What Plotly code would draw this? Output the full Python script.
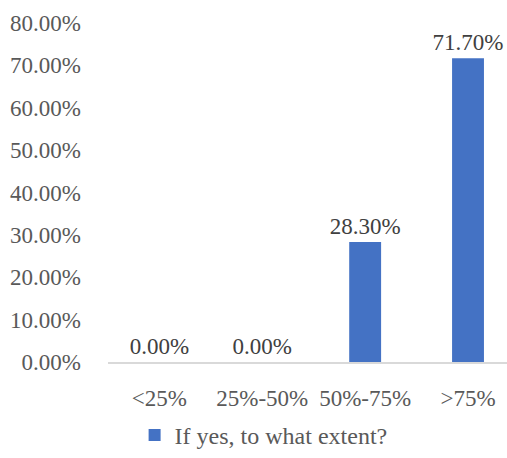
import plotly.graph_objects as go

categories = ["<25%", "25%-50%", "50%-75%", ">75%"]
values = [0.0, 0.0, 28.3, 71.7]
series_name = "If yes, to what extent?"
y_ticks = [0, 10, 20, 30, 40, 50, 60, 70, 80]
y_tick_labels = [f"{v:.2f}%" for v in y_ticks]

font_family = "Liberation Serif, Times New Roman, serif"
fs = 23

fig = go.Figure(
    go.Bar(
        x=categories,
        y=values,
        name=series_name,
        marker=dict(color="#4472C4", line=dict(width=0)),
        width=0.31,
        text=[f"{v:.2f}%" for v in values],
        textposition="outside",
        constraintext="none",
        textfont=dict(family=font_family, size=fs, color="#404040"),
        outsidetextfont=dict(family=font_family, size=fs, color="#404040"),
        cliponaxis=False,
        showlegend=True,
    )
)

fig.update_layout(
    width=507,
    height=458,
    margin=dict(l=108, r=0, t=23, b=91),
    paper_bgcolor="white",
    plot_bgcolor="white",
    font=dict(family=font_family, size=fs, color="#595959"),
    bargap=0.69,
    legend=dict(
        orientation="h",
        x=0.39,
        xanchor="center",
        y=-0.15,
        yanchor="top",
        font=dict(family=font_family, size=24, color="#595959"),
        itemwidth=30,
    ),
    xaxis=dict(
        type="category",
        range=[-0.5, 3.379],
        showgrid=False,
        showline=True,
        linecolor="#D9D9D9",
        linewidth=1.5,
        ticks="",
        ticklabelstandoff=15,
        tickfont=dict(family=font_family, size=fs, color="#595959"),
    ),
    yaxis=dict(
        range=[0, 80],
        tickvals=y_ticks,
        ticktext=y_tick_labels,
        showgrid=False,
        zeroline=False,
        showline=False,
        ticks="",
        ticklabelstandoff=26,
        tickfont=dict(family=font_family, size=fs, color="#595959"),
    ),
)

fig.write_html("out.html")
